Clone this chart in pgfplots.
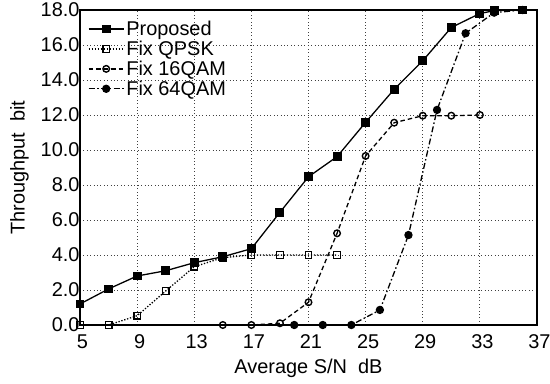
\documentclass[border=0pt]{standalone}
\usepackage{pgfplots}
\pgfplotsset{compat=1.18}
\usepackage{fontspec}
\setmainfont{Liberation Sans}
\begin{document}
\begin{tikzpicture}
\begin{axis}[
  at={(0,0)}, anchor=south west,
  scale only axis, width=457bp, height=315bp,
  xmin=5, xmax=37, ymin=0, ymax=18,
  xtick={5,9,...,37}, ytick={0,2,...,18},
  /pgf/number format/assume math mode=true,
  yticklabel style={xshift=3bp, /pgf/number format/fixed, /pgf/number format/fixed zerofill, /pgf/number format/precision=1},
  xticklabel style={xshift=2.5bp, yshift=-6bp},
  tick label style={font=\fontsize{20}{22}\selectfont},
  label style={font=\fontsize{20}{22}\selectfont},
  xlabel={Average S/N\ \ dB},
  ylabel={Throughput\ \ bit},
  xlabel style={yshift=-4bp},
  ylabel style={yshift=5bp},
  major tick length=0pt,
  grid=major,
  major grid style={dash pattern=on 0.8bp off 2.6bp, black!75, line width=0.8pt},
  axis line style={line width=1.1pt},
  legend style={at={(0.015,0.975)}, anchor=north west, draw=none, fill=none,
    font=\fontsize{20}{22}\selectfont, row sep=0bp, inner sep=1bp},
  legend cell align=left,
  legend image code/.code={\draw[mark repeat=2,mark phase=2] plot coordinates {(0bp,0bp)(17.5bp,0bp)(35bp,0bp)};},
  every axis plot/.append style={line width=1.3pt, black},
  clip=false,
]
\addplot[mark=square*, mark size=3.8bp, solid] coordinates {
(5,1.2)(7,2.06)(9,2.8)(11,3.1)(13,3.56)(15,3.9)(17,4.36)(19,6.44)(21,8.47)(23,9.62)(25,11.58)(27,13.47)(29,15.1)(31,17.0)(33,17.8)(34,17.96)(36,18.0)};
\addlegendentry{Proposed}
\addplot[mark=square, mark size=3.3bp, dash pattern=on 1.3bp off 1.7bp, mark options={solid, fill=white, line width=1.4pt}] coordinates {
(5,0)(7,0.0)(9,0.53)(11,1.94)(13,3.33)(15,3.85)(17,4.0)(19,4.0)(21,4.0)(23,4.0)};
\addlegendentry{Fix QPSK}
\addplot[mark=o, mark size=3.3bp, dash pattern=on 4.5bp off 3bp, mark options={solid, fill=white, line width=1.4pt}] coordinates {
(15,0)(17,0)(19,0.1)(21,1.3)(23,5.24)(25,9.66)(27,11.56)(29,11.96)(31,11.96)(33,12.0)};
\addlegendentry{Fix 16QAM}
\addplot[mark=*, mark size=3.5bp, dash pattern=on 6bp off 2.5bp on 1.5bp off 2.5bp, mark options={solid}] coordinates {
(20,0)(22,0)(24,0)(26,0.86)(28,5.14)(30,12.29)(32,16.67)(34,17.85)(36,18.0)};
\addlegendentry{Fix 64QAM}
\end{axis}
\pgfresetboundingbox
\path (-80bp,-59bp) rectangle (470bp,325bp);
\end{tikzpicture}
\end{document}
